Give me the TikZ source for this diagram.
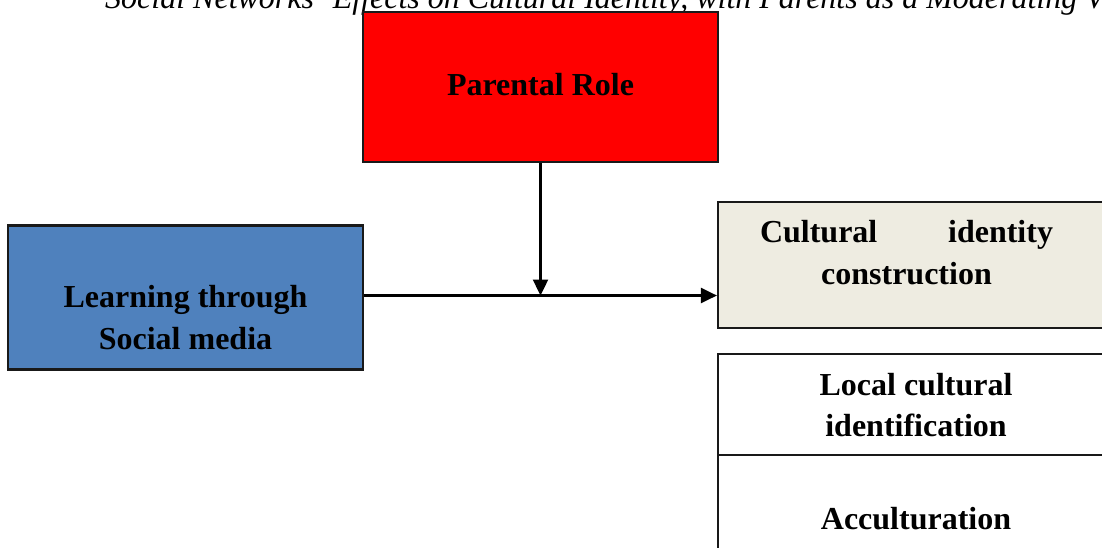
\documentclass[tikz,border=0pt]{standalone}
\usepackage{fontspec}
\setmainfont{Liberation Serif}
\usetikzlibrary{arrows.meta}
\definecolor{parred}{HTML}{FF0000}
\definecolor{lrnblue}{HTML}{4F81BD}
\definecolor{culbeige}{HTML}{EEECE1}
\begin{document}
\begin{tikzpicture}[x=1pt,y=-1pt,
  box/.style={draw=black!90, line width=2.2pt, inner sep=0pt},
  lbl/.style={font=\bfseries\fontsize{32}{41.5}\selectfont, inner sep=0pt, anchor=base, align=center},
  arr/.style={draw=black, line width=2.4pt, -{Triangle[length=16pt,width=15pt]}}]
\useasboundingbox (0,0) rectangle (1102,547);
\clip (0,0) rectangle (1102,547);
% title (partly cut off at the top and the right, as in the source)
\node[font=\itshape\fontsize{32}{38}\selectfont, anchor=base west, inner sep=0pt] (ttl) at (105,8)
  {Social Networks’ Effects on Cultural Identity, with Parents as a Moderating V};
% boxes
\node[box, fill=parred, minimum width=355pt, minimum height=150pt] (par) at (540.5,87) {};
\node[lbl] (parT) at (540.5,95) {Parental Role};
\node[box, fill=lrnblue, minimum width=355pt, minimum height=144pt] (lrn) at (185.5,297.5) {};
\node[lbl] (lrnT) at (185.5,349) {Learning through\\Social media};
\node[box, fill=culbeige, minimum width=396pt, minimum height=126pt] (cul) at (916,265) {};
\node[lbl] (culT) at (906.5,284) {\hbox to 293pt{Cultural\hfill identity}\\construction};
\node[box, fill=white, minimum width=396pt, minimum height=101pt] (loc) at (916,404.5) {};
\node[lbl] (locT) at (916,436.5) {Local cultural\\identification};
\node[box, fill=white, minimum width=396pt, minimum height=110pt] (acc) at (916,510) {};
\node[lbl] (accT) at (916,529) {Acculturation};
% connectors
\coordinate (hs) at ([yshift=2pt]lrn.east);
\coordinate (j) at (par.south |- hs);
\draw[arr] (hs) -- (hs -| cul.west);
\draw[arr] (par.south) -- (j);
\end{tikzpicture}
\end{document}
